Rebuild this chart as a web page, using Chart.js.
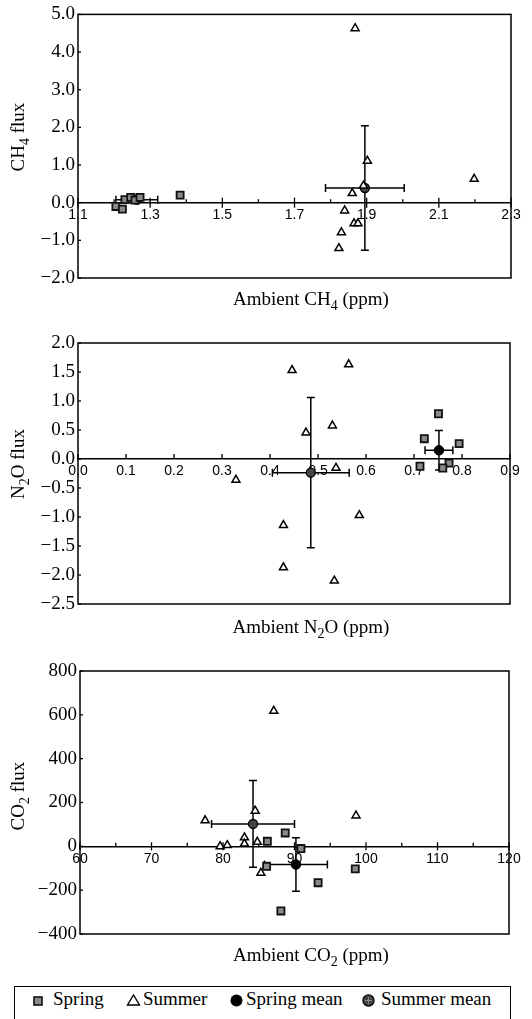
<!DOCTYPE html>
<html><head><meta charset="utf-8">
<script src="https://cdn.jsdelivr.net/npm/chart.js@4"></script>
<style>
html,body{margin:0;padding:0;background:#fff;}
body{width:532px;height:1019px;position:relative;overflow:hidden;}
canvas{position:absolute;left:0;}
#legend{position:absolute;left:14px;top:986px;width:497px;height:50px;border:1.5px solid #000;box-sizing:border-box;}
.lt{position:absolute;font-family:"Liberation Serif","Times New Roman",serif;font-size:19px;line-height:19px;color:#000;white-space:nowrap;}
.li{position:absolute;}
</style>
</head><body>
<canvas id="c1" width="532" height="320" style="top:0px"></canvas>
<canvas id="c2" width="532" height="330" style="top:320px"></canvas>
<canvas id="c3" width="532" height="330" style="top:650px"></canvas>
<div id="legend"></div>
<svg class="li" style="left:33px;top:996px" width="10" height="10"><rect x="1" y="1" width="8" height="8" fill="#8a8a8a" stroke="#111" stroke-width="1.6"/></svg>
<div class="lt" style="left:53px;top:989px">Spring</div>
<svg class="li" style="left:126px;top:994px" width="15" height="12"><polygon points="1.5,11 7.5,1 13.5,11" fill="#fff" stroke="#000" stroke-width="1.4"/></svg>
<div class="lt" style="left:143px;top:989px">Summer</div>
<svg class="li" style="left:230px;top:994px" width="13" height="13"><circle cx="6.5" cy="6.5" r="6" fill="#000"/></svg>
<div class="lt" style="left:246px;top:989px">Spring mean</div>
<svg class="li" style="left:362px;top:994px" width="13" height="13"><circle cx="6.5" cy="6.5" r="5.6" fill="#444" stroke="#000" stroke-width="1.2"/><path d="M3 6.5h7M6.5 3v7" stroke="#999" stroke-width="0.8"/></svg>
<div class="lt" style="left:381px;top:989px">Summer mean</div>
<script>
// ---------- CH4 ----------
const ch4SpringX = [1.205, 1.223, 1.230, 1.246, 1.258, 1.272, 1.383];
const ch4SpringY = [-0.10, -0.17, 0.08, 0.14, 0.07, 0.14, 0.20];
const ch4SummerX = [1.868, 1.902, 2.198, 1.860, 1.891, 1.839, 1.865, 1.876, 1.830, 1.823];
const ch4SummerY = [4.63, 1.11, 0.63, 0.25, 0.45, -0.21, -0.55, -0.55, -0.79, -1.21];
const ch4SpringMean = [1.263, 0.08];
const ch4SpringErr = [0.058, 0.05];
const ch4SummerMean = [1.895, 0.39];
const ch4SummerErr = [0.109, 1.65];
const ch4XTicks = [1.1, 1.3, 1.5, 1.7, 1.9, 2.1, 2.3];
const ch4XTickLabels = ['1.1', '1.3', '1.5', '1.7', '1.9', '2.1', '2.3'];
const ch4XMinor = [1.2, 1.4, 1.6, 1.8, 2.0, 2.2];
const ch4YTicks = [-2, -1, 0, 1, 2, 3, 4, 5];
const ch4YTickLabels = ['\u22122.0', '\u22121.0', '0.0', '1.0', '2.0', '3.0', '4.0', '5.0'];

// ---------- N2O ----------
const n2oSpringX = [0.751, 0.7215, 0.794, 0.7125, 0.773, 0.760];
const n2oSpringY = [0.78, 0.35, 0.265, -0.125, -0.07, -0.155];
const n2oSummerX = [0.329, 0.446, 0.564, 0.475, 0.530, 0.5375, 0.586, 0.428, 0.428, 0.534];
const n2oSummerY = [-0.36, 1.53, 1.63, 0.455, 0.575, -0.155, -0.97, -1.14, -1.87, -2.10];
const n2oSpringMean = [0.752, 0.15];
const n2oSpringErr = [0.029, 0.34];
const n2oSummerMean = [0.485, -0.235];
const n2oSummerErr = [0.080, 1.295];
const n2oXTicks = [0.0, 0.1, 0.2, 0.3, 0.4, 0.5, 0.6, 0.7, 0.8, 0.9];
const n2oXTickLabels = ['0.0', '0.1', '0.2', '0.3', '0.4', '0.5', '0.6', '0.7', '0.8', '0.9'];
const n2oXMinor = [];
const n2oYTicks = [-2.5, -2.0, -1.5, -1.0, -0.5, 0.0, 0.5, 1.0, 1.5, 2.0];
const n2oYTickLabels = ['\u22122.5', '\u22122.0', '\u22121.5', '\u22121.0', '\u22120.5', '0.0', '0.5', '1.0', '1.5', '2.0'];

// ---------- CO2 ----------
const co2SpringX = [86.2, 88.7, 90.9, 86.1, 98.5, 93.3, 88.1];
const co2SpringY = [23, 61, -10, -91, -103, -166, -295];
const co2SummerX = [87.1, 84.5, 98.6, 77.5, 83.0, 83.0, 84.8, 79.6, 80.6, 85.3];
const co2SummerY = [618, 162, 140, 118, 40, 12, 20, 0, 5, -121];
const co2SpringMean = [90.2, -83];
const co2SpringErr = [4.4, 122];
const co2SummerMean = [84.2, 102];
const co2SummerErr = [5.8, 198];
const co2XTicks = [60, 70, 80, 90, 100, 110, 120];
const co2XTickLabels = ['60', '70', '80', '90', '100', '110', '120'];
const co2XMinor = [65, 75, 85, 95, 105, 115];
const co2YTicks = [-400, -200, 0, 200, 400, 600, 800];
const co2YTickLabels = ['\u2212400', '\u2212200', '0', '200', '400', '600', '800'];

const SERIF = '"Liberation Serif", "Times New Roman", serif';
const SANS = '"Liberation Sans", Arial, sans-serif';

function drawRich(ctx, parts, cx, cy, size, rot) {
  ctx.save();
  ctx.translate(cx, cy);
  if (rot) ctx.rotate(-Math.PI / 2);
  ctx.fillStyle = '#000';
  ctx.textBaseline = 'alphabetic';
  ctx.textAlign = 'left';
  const fonts = parts.map(p => (p.sub ? Math.round(size * 0.72) : size) + 'px ' + SERIF);
  const widths = parts.map((p, i) => { ctx.font = fonts[i]; return ctx.measureText(p.t).width; });
  const total = widths.reduce((a, b) => a + b, 0);
  let x = -total / 2;
  parts.forEach((p, i) => { ctx.font = fonts[i]; ctx.fillText(p.t, x, p.sub ? size * 0.28 : 0); x += widths[i]; });
  ctx.restore();
}

function panel(id, P) {
  const ctx = document.getElementById(id).getContext('2d');
  const deco = {
    id: 'deco' + id,
    beforeDatasetsDraw(chart) {
      const c = chart.ctx, a = chart.chartArea;
      const xs = chart.scales.x, ys = chart.scales.y;
      c.save();
      c.strokeStyle = '#000';
      c.lineWidth = 1.5;
      c.strokeRect(a.left, a.top, a.right - a.left, a.bottom - a.top);
      const y0 = ys.getPixelForValue(0);
      c.lineWidth = 1.3;
      P.xTicks.forEach(v => {
        const px = xs.getPixelForValue(v);
        c.beginPath(); c.moveTo(px, y0 - P.majUp); c.lineTo(px, y0 + P.majDown); c.stroke();
      });
      P.xMinor.forEach(v => {
        const px = xs.getPixelForValue(v);
        c.beginPath(); c.moveTo(px, y0 - 3.5); c.lineTo(px, y0); c.stroke();
      });
      P.yTicks.forEach(v => {
        const py = ys.getPixelForValue(v);
        c.beginPath(); c.moveTo(a.left, py); c.lineTo(a.left + 3, py); c.stroke();
      });
      // error bars
      c.lineWidth = 1.5;
      [[P.springMean, P.springErr], [P.summerMean, P.summerErr]].forEach(([m, e]) => {
        const cx = xs.getPixelForValue(m[0]), cy = ys.getPixelForValue(m[1]);
        const xl = xs.getPixelForValue(m[0] - e[0]), xr = xs.getPixelForValue(m[0] + e[0]);
        const yt = ys.getPixelForValue(m[1] + e[1]), yb = ys.getPixelForValue(m[1] - e[1]);
        const cap = 4;
        c.beginPath();
        c.moveTo(xl, cy); c.lineTo(xr, cy);
        c.moveTo(xl, cy - cap); c.lineTo(xl, cy + cap);
        c.moveTo(xr, cy - cap); c.lineTo(xr, cy + cap);
        c.moveTo(cx, yt); c.lineTo(cx, yb);
        c.moveTo(cx - cap, yt); c.lineTo(cx + cap, yt);
        c.moveTo(cx - cap, yb); c.lineTo(cx + cap, yb);
        c.stroke();
      });
      c.restore();
    },
    afterDraw(chart) {
      const c = chart.ctx;
      drawRich(c, P.xTitle, 311, P.xTitleY, 19, false);
      drawRich(c, P.yTitle, 24, P.yTitleY, 19, true);
    }
  };
  return new Chart(ctx, {
    type: 'scatter',
    data: {
      datasets: [
        { label: 'Summer', data: P.summerX.map((x, i) => ({ x, y: P.summerY[i] })),
          pointStyle: 'triangle', pointRadius: 4.6, backgroundColor: '#fff', borderColor: '#000', borderWidth: 1.5 },
        { label: 'Spring', data: P.springX.map((x, i) => ({ x, y: P.springY[i] })),
          pointStyle: 'rect', pointRadius: 5, backgroundColor: '#8a8a8a', borderColor: '#111', borderWidth: 1.8 },
        { label: 'Summer mean', data: [{ x: P.summerMean[0], y: P.summerMean[1] }],
          pointStyle: 'circle', pointRadius: 4.5, backgroundColor: '#444', borderColor: '#000', borderWidth: 1.3 },
        { label: 'Spring mean', data: [{ x: P.springMean[0], y: P.springMean[1] }],
          pointStyle: 'circle', pointRadius: 4.8, backgroundColor: '#000', borderColor: '#000', borderWidth: 1 }
      ]
    },
    options: {
      responsive: false, maintainAspectRatio: false, animation: false, devicePixelRatio: 1, events: [],
      layout: { padding: P.pad },
      plugins: { legend: { display: false }, tooltip: { enabled: false } },
      scales: {
        x: {
          type: 'linear', position: { y: 0 }, min: P.xTicks[0], max: P.xTicks[P.xTicks.length - 1],
          afterBuildTicks: s => { s.ticks = P.xTicks.map(v => ({ value: v })); },
          ticks: { callback: (v, i) => P.xLabels[i], font: { family: SANS, size: 14 }, color: '#000', padding: 4, maxRotation: 0, autoSkip: false },
          grid: { display: true, drawOnChartArea: false, drawTicks: false, color: 'rgba(0,0,0,0)' },
          border: { display: true, color: '#000', width: 1.5 }
        },
        y: {
          type: 'linear', min: P.yTicks[0], max: P.yTicks[P.yTicks.length - 1],
          afterBuildTicks: s => { s.ticks = P.yTicks.map(v => ({ value: v })); },
          afterFit: s => { s.width = P.leftW; },
          ticks: { callback: (v, i) => P.yLabels[i], font: { family: SERIF, size: 19 }, color: '#000', padding: 3, autoSkip: false },
          grid: { display: true, drawOnChartArea: false, drawTicks: false, color: 'rgba(0,0,0,0)' },
          border: { display: false }
        }
      }
    },
    plugins: [deco]
  });
}

panel('c1', {
  springX: ch4SpringX, springY: ch4SpringY, summerX: ch4SummerX, summerY: ch4SummerY,
  springMean: ch4SpringMean, springErr: ch4SpringErr, summerMean: ch4SummerMean, summerErr: ch4SummerErr,
  xTicks: ch4XTicks, xLabels: ch4XTickLabels, xMinor: ch4XMinor, yTicks: ch4YTicks, yLabels: ch4YTickLabels,
  majUp: 5, majDown: 5, leftW: 78, pad: { left: 0, right: 21, top: 14, bottom: 42 },
  xTitle: [{ t: 'Ambient CH' }, { t: '4', sub: true }, { t: ' (ppm)' }], xTitleY: 305,
  yTitle: [{ t: 'CH' }, { t: '4', sub: true }, { t: ' flux' }], yTitleY: 137
});
panel('c2', {
  springX: n2oSpringX, springY: n2oSpringY, summerX: n2oSummerX, summerY: n2oSummerY,
  springMean: n2oSpringMean, springErr: n2oSpringErr, summerMean: n2oSummerMean, summerErr: n2oSummerErr,
  xTicks: n2oXTicks, xLabels: n2oXTickLabels, xMinor: n2oXMinor, yTicks: n2oYTicks, yLabels: n2oYTickLabels,
  majUp: 5, majDown: 0, leftW: 78, pad: { left: 0, right: 22, top: 23, bottom: 46 },
  xTitle: [{ t: 'Ambient N' }, { t: '2', sub: true }, { t: 'O (ppm)' }], xTitleY: 313,
  yTitle: [{ t: 'N' }, { t: '2', sub: true }, { t: 'O flux' }], yTitleY: 144
});
panel('c3', {
  springX: co2SpringX, springY: co2SpringY, summerX: co2SummerX, summerY: co2SummerY,
  springMean: co2SpringMean, springErr: co2SpringErr, summerMean: co2SummerMean, summerErr: co2SummerErr,
  xTicks: co2XTicks, xLabels: co2XTickLabels, xMinor: co2XMinor, yTicks: co2YTicks, yLabels: co2YTickLabels,
  majUp: 4, majDown: 4, leftW: 80, pad: { left: 0, right: 23, top: 21, bottom: 46 },
  xTitle: [{ t: 'Ambient CO' }, { t: '2', sub: true }, { t: ' (ppm)' }], xTitleY: 311,
  yTitle: [{ t: 'CO' }, { t: '2', sub: true }, { t: ' flux' }], yTitleY: 146
});
</script>
</body></html>
